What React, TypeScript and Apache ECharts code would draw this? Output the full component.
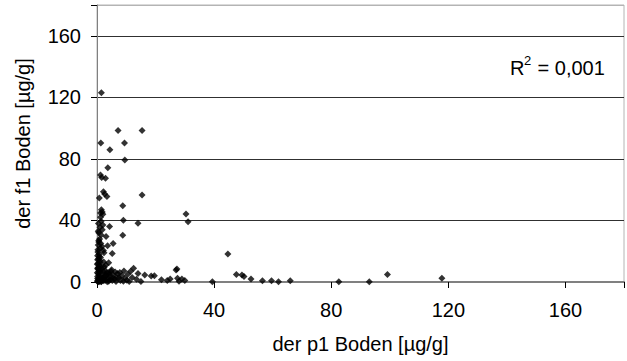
import React, { useEffect, useRef } from "react";
import * as echarts from "echarts";

const xTicks = [0, 40, 80, 120, 160];
const yTicks = [0, 40, 80, 120, 160];
const xAxisTitle = "der p1 Boden [µg/g]";
const yAxisTitle = "der f1 Boden [µg/g]";
const rSquaredLabel = "0,001";

const p1Values = [
  1.5, 7.2, 15.4, 1.3, 9.4, 4.4, 9.5, 3.7, 1.2, 1.6, 2.9, 2.2, 2.6, 3.4, 0.8, 15.4, 8.8, 1.5, 1.8, 1.2, 2.0, 9.0, 14.0, 30.4, 31.1,
  1.4, 2.0, 4.3, 1.0, 0.6, 1.4, 3.1, 8.8, 0.6, 5.5, 3.6, 1.7, 0.3, 2.4, 5.2, 44.7,
  0.2, 0.5, 1.0, 0.3, 0.8, 1.5, 0.2, 2.3, 1.2,
  12.5, 27.3, 16.3, 18.5, 27.0, 22.0, 24.0, 25.0, 27.5, 30.0, 28.0, 29.0, 39.4, 47.6, 49.5, 50.2, 52.6, 56.5, 59.6, 62.0, 66.0, 82.6, 93.0, 99.2, 117.8,
  0.1, 0.3, 0.5, 0.7, 1.0, 1.2, 1.5, 1.8, 2.0, 2.3, 2.6, 3.0, 3.3, 3.7, 4.0, 4.4, 4.8, 5.2, 5.6, 6.0, 6.5, 7.0, 7.5, 8.0, 8.5, 9.0, 9.6, 10.2, 11.0, 12.0, 13.5, 15.0,
  0.2, 0.4, 0.6, 0.9, 1.1, 0.2, 0.8, 1.4, 2.1, 2.8, 3.5, 4.2, 5.0, 6.2, 6.8, 0.1, 0.3, 0.5, 1.6, 2.5, 0.4, 0.9, 1.9, 2.7, 3.2, 3.9, 4.6, 5.4, 7.8, 9.2, 10.5, 11.5,
  3.0, 4.0, 1.2, 0.4, 0.9, 1.8, 0.5, 1.2, 14.0, 19.6, 0.3, 0.6, 0.2, 0.7, 1.3, 0.4, 2.2, 0.1, 0.8, 1.0,
];
const f1Values = [
  123, 98.4, 98.4, 90.4, 90.4, 85.9, 79.3, 74.3, 69.6, 67.9, 67.4, 58.7, 57.2, 55.5, 54.6, 56.6, 49.6, 47, 45.5, 44.8, 44, 40.1, 38.2, 44.2, 39.2,
  39.5, 37, 36, 35.5, 32, 30.5, 29.5, 30.4, 26, 25, 23.5, 23, 19.5, 19, 18.5, 18.2,
  17, 15, 14, 12, 11, 10, 9, 13, 16,
  8.9, 8.4, 4.5, 3.9, 7.8, 1.5, 1, 2, 2.5, 1, 0.5, 2, 0.2, 4.8, 4.5, 3.5, 2, 0.8, 0.8, 0.2, 0.8, 0.2, 0.2, 4.8, 2.4,
  0.5, 1, 2, 0.2, 3, 1.5, 0.3, 5, 2.5, 0.8, 4, 1.2, 6, 2, 0.5, 3.5, 7, 1, 4.5, 2, 0.3, 5.5, 2.8, 1, 4, 0.5, 2.5, 1.2, 0.4, 3, 1.8, 0.3,
  3.5, 5.5, 7, 8, 6.5, 2.2, 4.2, 0.1, 6.8, 7.5, 0.2, 5.2, 8, 6.5, 3, 6, 8.5, 9.5, 8.8, 9.8, 0.2, 0.8, 1.8, 2.9, 4.4, 6, 1.6, 2.8, 6.2, 7.2, 5, 7,
  11, 12.5, 22, 24, 28, 34, 38, 42, 5.5, 4.0, 21, 27, 14.5, 18, 25, 33, 20.5, 11.5, 16.5, 12.8,
];

const FONT = "'Liberation Sans', Arial, sans-serif";

export default function App() {
  const ref = useRef<HTMLDivElement>(null);
  useEffect(() => {
    if (!ref.current) return;
    const chart = echarts.init(ref.current, null, { renderer: "svg" });
    const data = p1Values.map((x, i) => [x, f1Values[i]]);
    chart.setOption({
      animation: false,
      backgroundColor: "#ffffff",
      textStyle: { fontFamily: FONT },
      grid: { left: 97, top: 5, right: -13, bottom: 79, show: true, borderColor: "#b4b4b4", borderWidth: 1 },
      xAxis: {
        type: "value",
        min: 0,
        max: 180,
        interval: 40,
        name: xAxisTitle,
        nameLocation: "middle",
        nameGap: 52,
        nameTextStyle: { fontSize: 20, color: "#000", fontFamily: FONT },
        axisLine: { show: true, onZero: false, lineStyle: { color: "#808080", width: 2 } },
        axisTick: { show: true, inside: false, length: 6, lineStyle: { color: "#000" } },
        axisLabel: {
          fontSize: 20,
          color: "#000",
          margin: 18,
          fontFamily: FONT,
          formatter: (v: number) => (xTicks.includes(v) ? String(v) : ""),
        },
        splitLine: { show: false },
      },
      yAxis: {
        type: "value",
        min: 0,
        max: 180,
        interval: 40,
        name: yAxisTitle,
        nameLocation: "middle",
        nameRotate: 90,
        nameGap: 64,
        nameTextStyle: { fontSize: 20, color: "#000", fontFamily: FONT },
        axisLine: { show: true, onZero: false, lineStyle: { color: "#808080", width: 1 } },
        axisTick: { show: true, inside: false, length: 6, lineStyle: { color: "#000" } },
        axisLabel: {
          fontSize: 20,
          color: "#000",
          margin: 16,
          fontFamily: FONT,
          formatter: (v: number) => (yTicks.includes(v) ? String(v) : ""),
        },
        splitLine: {
          show: true,
          lineStyle: { color: ["#303030", "#303030", "#303030", "#303030", "#303030", "#b4b4b4"], width: 1 },
        },
      },
      graphic: [
        { type: "text", left: 510, top: 58, style: { text: "R", font: `20px ${FONT}`, fill: "#000" } },
        { type: "text", left: 524, top: 54, style: { text: "2", font: `13px ${FONT}`, fill: "#000" } },
        { type: "text", left: 532, top: 58, style: { text: " = " + rSquaredLabel, font: `20px ${FONT}`, fill: "#000" } },
      ],
      series: [
        {
          type: "scatter",
          data,
          symbol: "diamond",
          symbolSize: 7,
          itemStyle: { color: "#000" },
        },
      ],
    });
    return () => chart.dispose();
  }, []);
  return <div ref={ref} style={{ position: "fixed", left: 0, top: 0, width: 627, height: 361 }} />;
}
